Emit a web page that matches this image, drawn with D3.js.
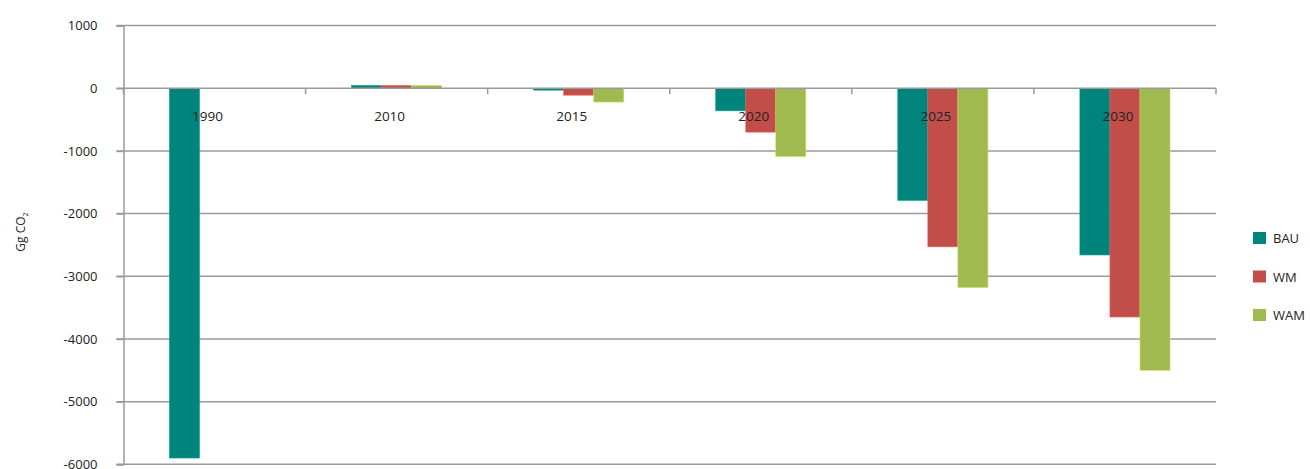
<!DOCTYPE html>
<html>
<head>
<meta charset="utf-8">
<script src="https://cdn.jsdelivr.net/npm/d3@7"></script>
<style>
  html, body { margin: 0; padding: 0; background: #fff; }
  svg { display: block; font-family: "Open Sans", "Noto Sans", sans-serif; }
</style>
</head>
<body>
<svg id="chart" width="1310" height="469"></svg>
<script>
// Emission change by scenario, Gg CO2
const years = ["1990", "2010", "2015", "2020", "2025", "2030"];
const seriesNames = ["BAU", "WM", "WAM"];
const bau = [-5900, 45, -30, -360, -1790, -2660];
const wm  = [null, 45, -110, -700, -2530, -3650];
const wam = [null, 45, -220, -1090, -3180, -4500];
const yTicks = [1000, 0, -1000, -2000, -3000, -4000, -5000, -6000];
const colors = ["#00847B", "#C24E4A", "#A0BA4F"];

const seriesValues = [bau, wm, wam];
const svg = d3.select("#chart");

const plot = { left: 123.5, right: 1216, top: 25.6, bottom: 464.3 };

const x = d3.scaleBand().domain(years).range([plot.left, plot.right]).paddingInner(0).paddingOuter(0);
const xs = d3.scaleBand().domain(seriesNames).range([0, x.bandwidth()]).paddingInner(0).paddingOuter(1.53);
const y = d3.scaleLinear().domain([-6000, 1000]).range([plot.bottom, plot.top]);

// horizontal gridlines
svg.append("g").selectAll("line").data(yTicks.filter(d => d !== 0)).join("line")
  .attr("x1", plot.left - 7).attr("x2", plot.right)
  .attr("y1", d => y(d)).attr("y2", d => y(d))
  .attr("stroke", "#9a9a9a").attr("stroke-width", 1.5);

// bars
const rows = [];
years.forEach((yr, i) => seriesNames.forEach((s, j) => {
  const v = seriesValues[j][i];
  if (v !== null) rows.push({ yr, s, j, v });
}));
svg.append("g").selectAll("rect").data(rows).join("rect")
  .attr("x", d => x(d.yr) + xs(d.s))
  .attr("width", xs.bandwidth())
  .attr("y", d => y(Math.max(0, d.v)))
  .attr("height", d => Math.abs(y(d.v) - y(0)))
  .attr("fill", d => colors[d.j])
  .attr("stroke", d => d3.color(colors[d.j]).brighter(0.6))
  .attr("stroke-width", 0.6);

// y axis
const yAxis = svg.append("g").attr("transform", `translate(${plot.left},0)`)
  .call(d3.axisLeft(y).tickValues(yTicks).tickSize(7).tickPadding(19).tickFormat(d => String(d)));
yAxis.select(".domain").attr("stroke", "#9a9a9a").attr("stroke-width", 1.5);
yAxis.selectAll(".tick line").attr("stroke", "#9a9a9a").attr("stroke-width", 1.5);
yAxis.selectAll(".tick text").attr("font-size", 13).attr("fill", "#222")
  .attr("font-family", "'Open Sans', sans-serif");

// category axis along zero
const xAxis = svg.append("g").attr("transform", `translate(0,${y(0)})`);
xAxis.append("line").attr("x1", plot.left - 7).attr("x2", plot.right)
  .attr("stroke", "#9a9a9a").attr("stroke-width", 1.5);
const bounds = years.map(d => x(d)).concat([plot.right]);
xAxis.selectAll("line.tk").data(bounds).join("line").attr("class", "tk")
  .attr("x1", d => d).attr("x2", d => d).attr("y1", 0).attr("y2", 6)
  .attr("stroke", "#9a9a9a").attr("stroke-width", 1.5);
xAxis.selectAll("text").data(years).join("text")
  .attr("x", d => x(d) + x.bandwidth() / 2 - 7)
  .attr("y", 33)
  .attr("text-anchor", "middle")
  .attr("font-size", 13.5).attr("fill", "#222")
  .text(d => d);

// y axis title
const title = svg.append("text")
  .attr("transform", "translate(25,232) rotate(-90)")
  .attr("text-anchor", "middle").attr("font-size", 12).attr("fill", "#222");
title.append("tspan").text("Gg CO");
title.append("tspan").attr("font-size", 7).attr("dy", 3).text("2");

// legend
const legend = svg.append("g");
const lg = legend.selectAll("g").data(seriesNames).join("g")
  .attr("transform", (d, i) => `translate(1253,${238 + i * 38.5})`);
lg.append("rect").attr("x", 0).attr("y", -6).attr("width", 13).attr("height", 12)
  .attr("fill", (d, i) => colors[i]);
lg.append("text").attr("x", 20).attr("y", 5).attr("font-size", 13).attr("fill", "#222").text(d => d);
</script>
</body>
</html>
